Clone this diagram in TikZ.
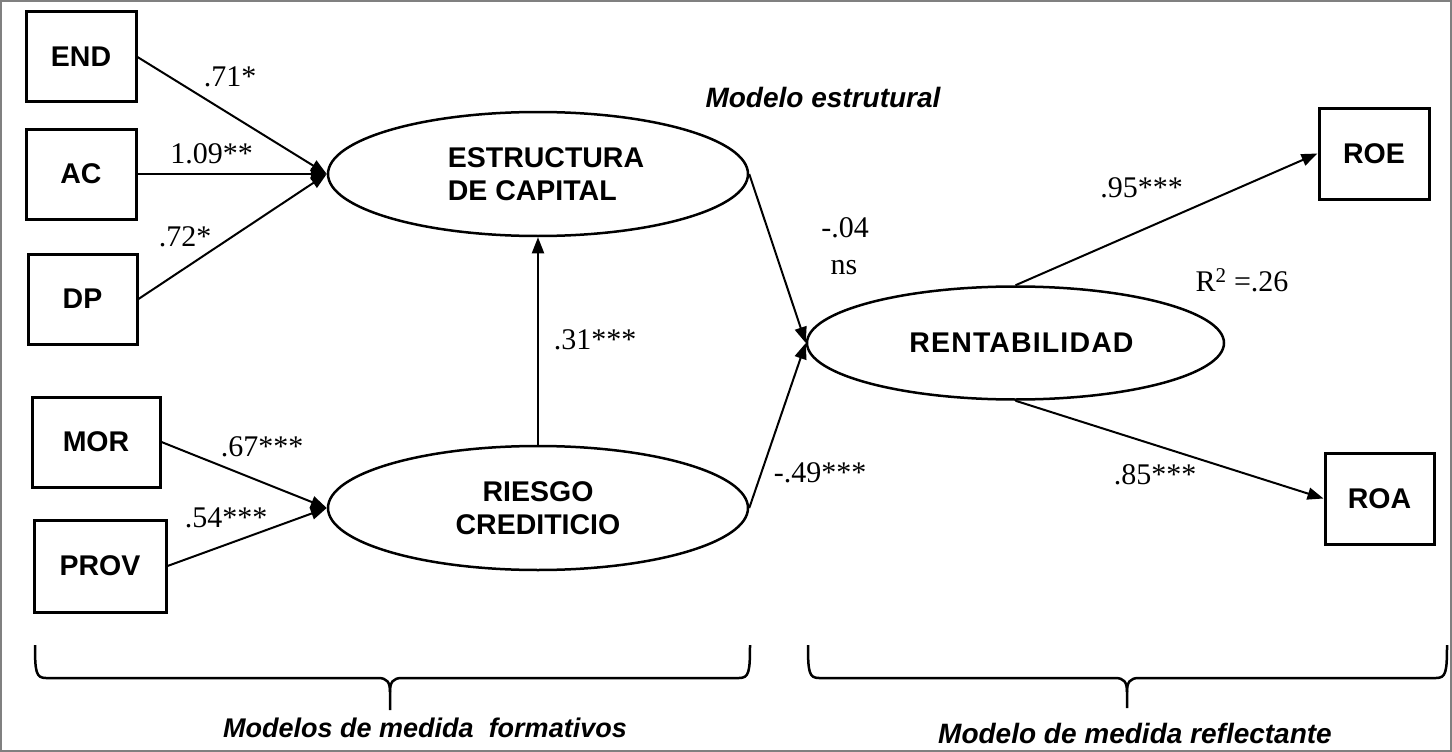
\documentclass[tikz,border=0pt]{standalone}
\usepackage{fontspec}
\setmainfont{Liberation Serif}
\setsansfont{Liberation Sans}
\usetikzlibrary{arrows.meta,shapes.geometric}
\begin{document}
\begin{tikzpicture}[x=1pt,y=-1pt,
  obs/.style={draw,line width=3pt,minimum width=110pt,minimum height=90pt,inner sep=0pt,font=\sffamily\bfseries\fontsize{28.5}{33}\selectfont},
  lat/.style={draw,ellipse,line width=2.5pt,minimum width=420pt,minimum height=124pt,inner sep=0pt,font=\sffamily\bfseries\fontsize{28.5}{33}\selectfont},
  arr/.style={line width=2pt,-{Triangle[length=16pt,width=12pt]}},
  coef/.style={font=\fontsize{30}{34}\selectfont,inner sep=0pt},
  capt/.style={font=\sffamily\bfseries\itshape\fontsize{28}{32}\selectfont,inner sep=0pt},
  brace/.style={line width=2.5pt}]
\useasboundingbox (0,0) rectangle (1452,752);
\draw[gray,line width=2pt] (1,1) rectangle (1451,751);

% observed indicators
\node[obs] (END) at (81,57) {END};
\node[obs] (AC) at (81,174) {AC};
\node[obs,minimum width=109pt] (DP) at (82.5,299) {DP};
\node[obs,minimum width=128pt] (MOR) at (96,442) {MOR};
\node[obs,minimum width=132pt,minimum height=92pt] (PROV) at (100,566) {PROV};
\node[obs,minimum height=91pt] (ROE) at (1374,153.5) {ROE};
\node[obs,minimum width=109pt,minimum height=91pt] (ROA) at (1379.5,498.5) {ROA};

% latent constructs
\node[lat,align=left] (EST) at (538,174) {\hspace*{16pt}ESTRUCTURA\\\hspace*{16pt}DE CAPITAL};
\node[lat,align=center] (RSG) at (538,508) {RIESGO\\CREDITICIO};
\node[lat,minimum width=417pt,minimum height=113pt] (RENT) at (1015.5,343) {\hspace*{12pt}\addfontfeature{LetterSpace=4}RENTABILIDAD};

% paths
\draw[arr] (END.east) -- (EST.west);
\draw[arr] (AC.east) -- (EST.west);
\draw[arr] (DP.east) -- (EST.west);
\draw[arr] (MOR.east) -- (RSG.west);
\draw[arr] (PROV.east) -- (RSG.west);
\draw[arr] (RSG.north) -- (EST.south);
\draw[arr] (EST.east) -- (RENT.west);
\draw[arr] (RSG.east) -- (RENT.west);
\draw[arr] (RENT.north) -- (ROE.west);
\draw[arr] (RENT.south) -- (ROA.west);

% coefficients
\node[coef] (c1) at (230,77) {.71*};
\node[coef] (c2) at (211.5,154) {1.09**};
\node[coef] (c3) at (185,237) {.72*};
\node[coef] (c4) at (262,447) {.67***};
\node[coef] (c5) at (226,518) {.54***};
\node[coef] (c6) at (595,340) {.31***};
\node[coef] (c7) at (845,228) {-.04};
\node[coef] (c8) at (844,268) {ns};
\node[coef] (c9) at (820,473) {-.49***};
\node[coef] (c10) at (1141.5,187.5) {.95***};
\node[coef] (c11) at (1242,280) {R\textsuperscript{2} =.26};
\node[coef] (c12) at (1155,474.5) {.85***};

% captions
\node[capt] (t1) at (823,97) {Modelo estrutural};
\node[capt,font=\sffamily\bfseries\itshape\fontsize{27}{32}\selectfont] (t2) at (425,728) {Modelos de medida\ \ formativos};
\node[capt] (t3) at (1135,733) {Modelo de medida reflectante};

% braces
\draw[brace] (35,645) .. controls (35,672) and (36,678) .. (46,678) -- (378,678) .. controls (387,678) and (390,682) .. (390,692) -- (390,710);
\draw[brace] (750,645) .. controls (750,672) and (749,678) .. (739,678) -- (402,678) .. controls (393,678) and (390,682) .. (390,692);
\draw[brace] (808,645) .. controls (808,672) and (809,678) .. (819,678) -- (1115,678) .. controls (1124,678) and (1127,682) .. (1127,692) -- (1127,708);
\draw[brace] (1447,645) .. controls (1447,672) and (1446,678) .. (1436,678) -- (1139,678) .. controls (1130,678) and (1127,682) .. (1127,692);
\end{tikzpicture}
\end{document}
